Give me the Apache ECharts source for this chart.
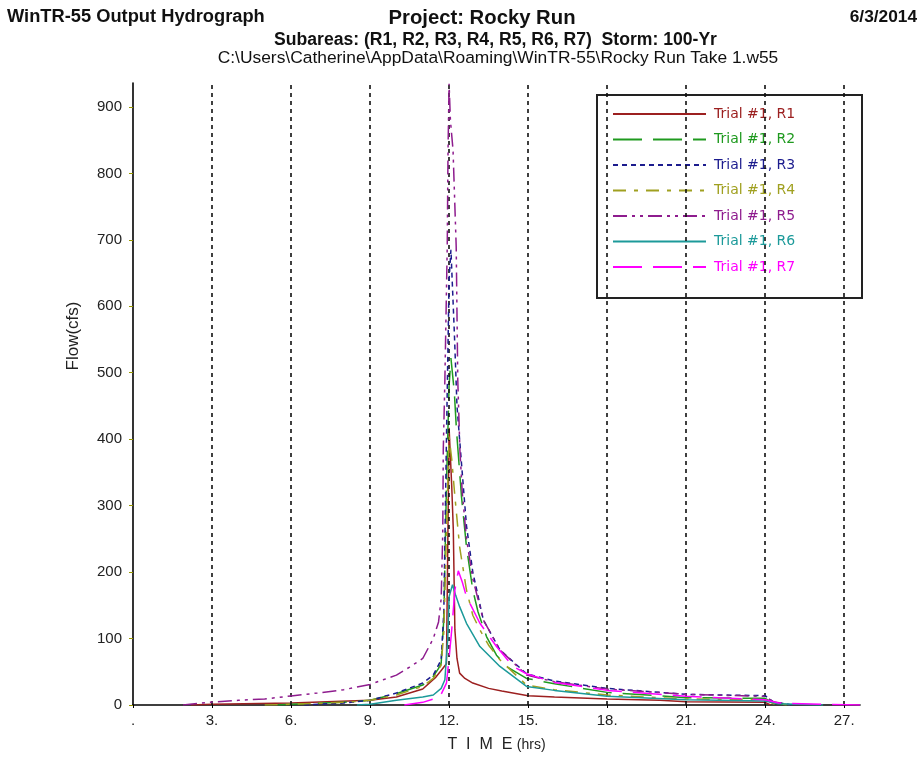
<!DOCTYPE html>
<html>
<head>
<meta charset="utf-8">
<script src="https://cdn.jsdelivr.net/npm/echarts@6/dist/echarts.min.js"></script>
<style>
html,body{margin:0;padding:0;background:#fff;}
#chart{width:924px;height:757px;}
</style>
</head>
<body>
<div id="chart"></div>
<script>
// ---- data (time in hrs, flow in cfs) ----
const seriesNames = ['Trial #1, R1','Trial #1, R2','Trial #1, R3','Trial #1, R4','Trial #1, R5','Trial #1, R6','Trial #1, R7'];
const xTicks = [3, 6, 9, 12, 15, 18, 21, 24, 27];
const xLabelTicks = [0, 3, 6, 9, 12, 15, 18, 21, 24, 27];
const yTicks = [0, 100, 200, 300, 400, 500, 600, 700, 800, 900];

const r1 = [[2.2,0],[3,1],[6,3],[9,7],[10,12],[11,24],[11.5,42],[11.7,52],[11.9,62],[12.0,417],[12.1,330],[12.16,264],[12.22,113],[12.3,70],[12.4,48],[12.6,40],[12.9,33],[13.5,25],[14,21],[15,14],[16,12],[18,9],[20,7],[21,5],[24,4],[24.2,0]];
const r2 = [[5.5,0],[6,1],[8,4],[9,7],[10,17],[11,30],[11.4,43],[11.6,55],[11.7,63],[11.8,130],[11.9,330],[12.0,480],[12.07,522],[12.2,470],[12.28,414],[12.47,314],[12.66,238],[12.9,173],[13.1,140],[13.42,103],[13.8,75],[14.18,58],[14.94,40],[16,32],[18,19],[21,11],[24,10],[24.3,3],[25,0]];
const r3 = [[6.5,0],[8,3],[9,7],[10,18],[11,33],[11.4,45],[11.7,68],[11.8,140],[11.9,400],[12.0,640],[12.07,685],[12.2,560],[12.3,450],[12.47,364],[12.66,270],[12.9,200],[13.3,128],[13.93,83],[14.94,47],[16,36],[18,25],[21,16],[24,14],[24.3,5],[25,0]];
const r4 = [[5,0],[6,1],[8,4],[9,7],[10,15],[11,28],[11.4,40],[11.7,60],[11.8,110],[11.9,260],[12.0,404],[12.1,370],[12.22,314],[12.4,238],[12.66,173],[12.9,135],[13.17,113],[13.5,90],[13.93,68],[14.94,30],[16,23],[18,15],[21,9],[24,8],[24.3,2],[25,0]];
const r5 = [[1.9,0],[3,4.5],[4,7],[5,9],[6,13.6],[7,18],[8,23],[9,31],[9.5,38],[10,45],[10.5,57],[11,70],[11.4,100],[11.6,125],[11.7,160],[11.76,260],[11.78,384],[11.84,489],[11.93,690],[11.96,835],[12.0,935],[12.05,880],[12.15,835],[12.27,690],[12.33,489],[12.41,384],[12.5,320],[12.66,250],[12.9,190],[13.3,128],[13.93,83],[14.94,45],[16,35],[18,24],[21,16],[24,13],[24.3,5],[25,0]];
const r6 = [[8.5,0],[9,1],[10,7],[11,12],[11.4,15],[11.7,25],[11.84,38],[11.95,100],[12.0,163],[12.13,181],[12.25,165],[12.4,148],[12.66,123],[13.17,88],[13.93,58],[14.94,28],[16,22],[18,13],[21,8],[24,6],[24.5,2],[26.2,0]];
const r7 = [[10.3,0],[11,4],[11.65,12],[11.9,33],[12.0,70],[12.1,113],[12.22,173],[12.35,202],[12.5,185],[12.66,163],[13.17,123],[13.8,88],[14.43,58],[14.94,47],[16,34],[18,22],[21,13],[24,8],[24.5,3],[26.3,1],[27.6,0]];

const allData = [r1, r2, r3, r4, r5, r6, r7];
const colors = ['#9c2020','#1f9a1f','#1c1c8e','#a0a020','#8e1c8e','#1c9a9a','#ff00ff'];
const dashes = ['solid',[29,11],[5,4],[13,8,4,8],[14,5,3,5,3,5],'solid',[29,11]];

const chart = echarts.init(document.getElementById('chart'));

const series = allData.map((d, i) => ({
  name: seriesNames[i],
  type: 'line',
  data: d,
  symbol: 'none',
  showSymbol: false,
  smooth: false,
  animation: false,
  lineStyle: { color: colors[i], width: 1.5, type: dashes[i] },
  itemStyle: { color: colors[i] },
  z: 3 + i
}));
series[0].markLine = {
  silent: true,
  symbol: 'none',
  animation: false,
  label: { show: false },
  lineStyle: { color: '#111', type: [4, 4], width: 1.6 },
  data: xTicks.map(v => ({ xAxis: v }))
};

chart.setOption({
  animation: false,
  backgroundColor: '#fff',
  color: colors,
  grid: { left: 133, right: 64, top: 83, bottom: 52, containLabel: false },
  xAxis: {
    type: 'value',
    min: 0, max: 27.6, interval: 3,
    axisLine: { show: true, onZero: false, lineStyle: { color: '#000', width: 1.6 } },
    axisTick: { show: true, length: 3, customValues: xLabelTicks, lineStyle: { color: '#000' } },
    splitLine: { show: false },
    axisLabel: {
      margin: 8,
      color: '#222',
      customValues: xLabelTicks,
      fontFamily: 'Liberation Sans, Arial, sans-serif',
      fontSize: 15,
      formatter: v => (v === 0 ? '.' : (v % 3 === 0 ? v + '.' : ''))
    }
  },
  yAxis: {
    type: 'value',
    min: 0, max: 936, interval: 100,
    axisLine: { show: true, lineStyle: { color: '#000', width: 1.6 } },
    axisTick: { show: true, length: 4, customValues: yTicks, lineStyle: { color: '#999900' } },
    splitLine: { show: false },
    axisLabel: {
      margin: 11,
      color: '#222',
      customValues: yTicks,
      fontFamily: 'Liberation Sans, Arial, sans-serif',
      fontSize: 15,
      formatter: v => (v % 100 === 0 ? String(v) : '')
    }
  },
  legend: {
    orient: 'vertical',
    left: 607, top: 102,
    itemWidth: 93, itemHeight: 14, itemGap: 11.5,
    itemStyle: { color: 'rgba(0,0,0,0)', borderWidth: 0, opacity: 0 },
    textStyle: { fontFamily: 'DejaVu Sans, sans-serif', fontSize: 14, lineHeight: 14, padding: [0,0,0,3] },
    data: seriesNames.map((n, i) => ({ name: n, textStyle: { color: colors[i] } })),
    selectedMode: false
  },
  graphic: [
    { type: 'rect', z: 1, shape: { x: 597, y: 95, width: 265, height: 203 }, style: { fill: 'transparent', stroke: '#222', lineWidth: 2 } },
    { type: 'text', x: 7, y: 17, style: { text: 'WinTR-55 Output Hydrograph', font: 'bold 18.3px "Liberation Sans", Arial, sans-serif', fill: '#111', verticalAlign: 'middle' } },
    { type: 'text', x: 482, y: 18, style: { text: 'Project: Rocky Run', font: 'bold 20.3px "Liberation Sans", Arial, sans-serif', fill: '#111', align: 'center', verticalAlign: 'middle' } },
    { type: 'text', x: 917, y: 17, style: { text: '6/3/2014', font: 'bold 17.3px "Liberation Sans", Arial, sans-serif', fill: '#111', align: 'right', verticalAlign: 'middle' } },
    { type: 'text', x: 495.5, y: 40, style: { text: 'Subareas: (R1, R2, R3, R4, R5, R6, R7)  Storm: 100-Yr', font: 'bold 17.6px "Liberation Sans", Arial, sans-serif', fill: '#111', align: 'center', verticalAlign: 'middle' } },
    { type: 'text', x: 498, y: 58, style: { text: 'C:\\Users\\Catherine\\AppData\\Roaming\\WinTR-55\\Rocky Run Take 1.w55', font: '17.4px "Liberation Sans", Arial, sans-serif', fill: '#111', align: 'center', verticalAlign: 'middle' } },
    { type: 'text', x: 73, y: 336, rotation: Math.PI / 2, style: { text: 'Flow(cfs)', font: '17px "Liberation Sans", Arial, sans-serif', fill: '#222', align: 'center', verticalAlign: 'middle' } },
    { type: 'text', x: 496.5, y: 745, style: { text: '{a|T  I  M  E }{b|(hrs)}', rich: { a: { font: '16px "Liberation Sans", Arial, sans-serif', fill: '#222' }, b: { font: '14px "Liberation Sans", Arial, sans-serif', fill: '#222' } }, align: 'center', verticalAlign: 'middle' } }
  ],
  series: series
});
</script>
</body>
</html>
